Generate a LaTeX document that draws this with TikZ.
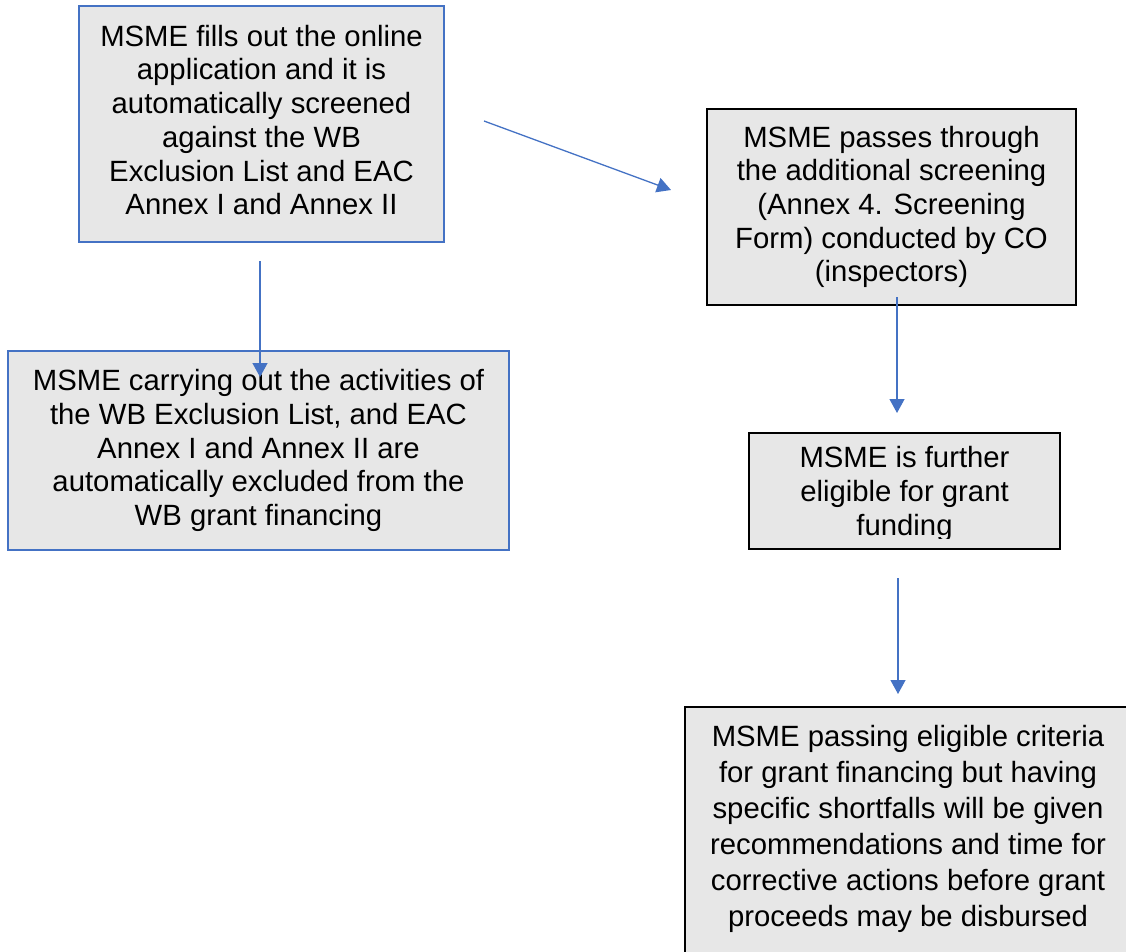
\documentclass[tikz,border=0pt]{standalone}
\usepackage{fontspec}
\setmainfont{Liberation Sans}
\usetikzlibrary{arrows.meta}
\definecolor{bblue}{HTML}{4472C4}
\definecolor{boxfill}{HTML}{E7E7E7}
\tikzset{
  box/.style={draw=#1, line width=2pt, fill=boxfill, align=center, inner sep=0pt,
    font=\fontsize{29.3}{33.7}\selectfont},
  txt/.style={align=center, inner sep=0pt, font=\fontsize{29.3}{33.7}\selectfont},
  conn/.style={draw=bblue, line width=1.3pt, -{Triangle[length=14pt,width=15pt]}}
}
\begin{document}
\begin{tikzpicture}[x=1pt,y=-1pt]
\useasboundingbox (0,0) rectangle (1126,952);
\clip (0,0) rectangle (1126,952);
\node[box=bblue, minimum width=365pt, minimum height=236pt] (a) at (261.5,124) {};
\node[txt] (at) at (261.5,120)
  {MSME fills out the online\\application and it is\\automatically screened\\against the WB\\Exclusion List and EAC\\Annex I and Annex II};
\node[box=black, minimum width=369pt, minimum height=196pt] (b) at (891.5,207)
  {MSME passes through\\the additional screening\\(Annex 4. Screening\\Form) conducted by CO\\(inspectors)};
\node[box=bblue, minimum width=501pt, minimum height=199pt] (c) at (258.5,450.5)
  {MSME carrying out the activities of\\the WB Exclusion List, and EAC\\Annex I and Annex II are\\automatically excluded from the\\WB grant financing};
\node[box=black, minimum width=311pt, minimum height=116pt] (d) at (904.5,491) {};
\begin{scope}
  \clip (749,433) rectangle (1060,538);
  \node[txt] (dt) at (904.5,494) {MSME is further\\eligible for grant\\funding};
\end{scope}
\node[box=black, minimum width=445pt, minimum height=253pt] (e) at (907.5,833.5) {};
\node[txt, font=\fontsize{29.3}{36}\selectfont] (et) at (908,829)
  {MSME passing eligible criteria\\for grant financing but having\\specific shortfalls will be given\\recommendations and time for\\corrective actions before grant\\proceeds may be disbursed};
\coordinate (a1) at (484,121);
\coordinate (b1) at (671,190);
\coordinate (a2) at (260,261);
\coordinate (c1) at (260,377);
\coordinate (b2) at (897,297);
\coordinate (d1) at (897,413);
\coordinate (d2) at (898,578);
\coordinate (e1) at (898,694);
\draw[conn] (a1) -- (b1);
\draw[conn] (a2) -- (c1);
\draw[conn] (b2) -- (d1);
\draw[conn] (d2) -- (e1);
\end{tikzpicture}
\end{document}
